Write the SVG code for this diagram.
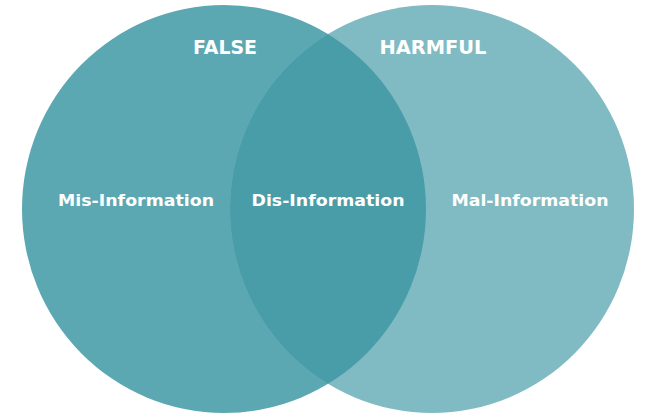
<svg xmlns="http://www.w3.org/2000/svg" width="649" height="416" viewBox="0 0 649 416">
<style>
.lbl{font-family:"DejaVu Sans","Liberation Sans",sans-serif;font-weight:bold;fill:#ffffff;text-anchor:middle}
.head{font-size:20px}
.mid{font-size:16px}
</style>
<defs>
<clipPath id="clipLeft"><ellipse cx="224" cy="209" rx="202" ry="204"/></clipPath>
</defs>
<rect width="649" height="416" fill="#ffffff"/>
<g id="false-set">
<ellipse cx="224" cy="209" rx="202" ry="204" fill="#5ba8b2"/>
</g>
<g id="harmful-set">
<ellipse cx="432" cy="209" rx="202" ry="204" fill="#80bbc3"/>
</g>
<g id="overlap">
<ellipse cx="432" cy="209" rx="202" ry="204" fill="#489da8" clip-path="url(#clipLeft)"/>
</g>
<g id="connectors"></g>
<g id="labels">
<text class="lbl head" x="225" y="54" textLength="64" lengthAdjust="spacingAndGlyphs">FALSE</text>
<text class="lbl head" x="433" y="54" textLength="107" lengthAdjust="spacingAndGlyphs">HARMFUL</text>
<text class="lbl mid" x="136" y="206" textLength="156" lengthAdjust="spacingAndGlyphs">Mis-Information</text>
<text class="lbl mid" x="328" y="206" textLength="153" lengthAdjust="spacingAndGlyphs">Dis-Information</text>
<text class="lbl mid" x="530" y="206" textLength="157" lengthAdjust="spacingAndGlyphs">Mal-Information</text>
</g>
</svg>
